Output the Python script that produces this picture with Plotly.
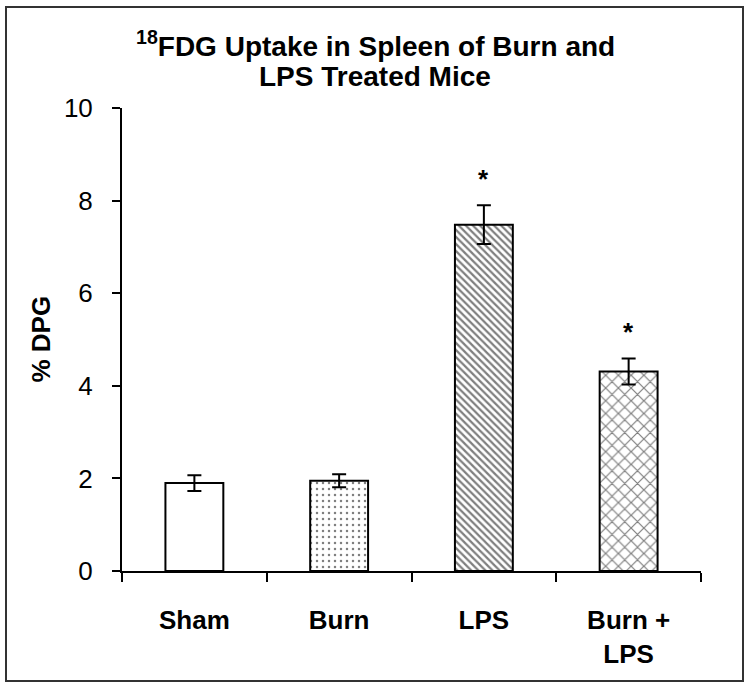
import plotly.graph_objects as go

categories = ["Sham", "Burn", "LPS", "Burn +<br>LPS"]
means = [1.90, 1.95, 7.48, 4.31]
errors = [0.17, 0.14, 0.42, 0.28]
significant = [False, False, True, True]
patterns = ["", ".", "\\", "x"]
y_ticks = [0, 2, 4, 6, 8, 10]

FONT = "Liberation Sans, Arial, sans-serif"

# plot area geometry (pixels)
W, H = 750, 689
L, R, T, B = 122, 49, 108, 118
pw, ph = W - L - R, H - T - B

def px(xp):
    return (xp - L) / pw

def py(yp):
    return (H - B - yp) / ph

fig = go.Figure()
fig.add_trace(go.Bar(
    x=categories, y=means, width=0.4,
    marker=dict(
        color="white",
        line=dict(color="black", width=2),
        pattern=dict(shape=patterns, fgcolor="black", bgcolor="white",
                     size=[8, 6, 5, 9], solidity=[0.2, 0.14, 0.45, 0.25]),
    ),
    error_y=dict(type="data", array=errors, color="black", thickness=2, width=7),
    showlegend=False,
))

annotations = []
for c, m, e, s in zip(categories, means, errors, significant):
    if s:
        annotations.append(dict(x=c, y=m + e, xref="x", yref="y", text="<b>*</b>",
                                showarrow=False, yanchor="middle", yshift=26,
                                font=dict(family=FONT, size=26, color="black")))

annotations += [
    dict(x=px(375), y=py(44), xref="paper", yref="paper", xanchor="center", yanchor="middle",
         text="<b><sup>18</sup>FDG Uptake in Spleen of Burn and</b>", showarrow=False,
         font=dict(family=FONT, size=28, color="black")),
    dict(x=px(375), y=py(77), xref="paper", yref="paper", xanchor="center", yanchor="middle",
         text="<b>LPS Treated Mice</b>", showarrow=False,
         font=dict(family=FONT, size=28, color="black")),
    dict(x=px(40), y=0.5, xref="paper", yref="paper", xanchor="center", yanchor="middle",
         text="<b>% DPG</b>", textangle=-90, showarrow=False,
         font=dict(family=FONT, size=26, color="black")),
]

shapes = [dict(type="rect", xref="paper", yref="paper",
               x0=px(6), x1=px(743), y0=py(681), y1=py(7),
               line=dict(color="#333333", width=2), fillcolor="rgba(0,0,0,0)", layer="below")]

fig.update_layout(
    width=W, height=H,
    margin=dict(l=L, r=R, t=T, b=B, pad=0),
    paper_bgcolor="white", plot_bgcolor="white",
    annotations=annotations, shapes=shapes,
    font=dict(family=FONT, color="black"),
    xaxis=dict(
        type="category", range=[-0.5, 3.5], tickson="boundaries",
        showline=True, linecolor="black", linewidth=2,
        ticks="outside", ticklen=9, tickwidth=2, tickcolor="black",
        tickfont=dict(family=FONT, size=26, color="black"),
        tickvals=categories,
        ticktext=["<b>" + c.replace("<br>", "</b><br><b>") + "</b>" for c in categories],
        ticklabelstandoff=25,
        showgrid=False, zeroline=False, fixedrange=True,
    ),
    yaxis=dict(
        range=[0, 10], tickvals=y_ticks,
        showline=True, linecolor="black", linewidth=2,
        ticks="outside", ticklen=8, tickwidth=2, tickcolor="black",
        tickfont=dict(family=FONT, size=26, color="black"),
        ticklabelstandoff=14,
        showgrid=False, zeroline=False, fixedrange=True,
    ),
)

fig.write_html("out.html", config={"displayModeBar": False},
               post_script="document.body.style.margin='0';document.body.style.padding='0';")
